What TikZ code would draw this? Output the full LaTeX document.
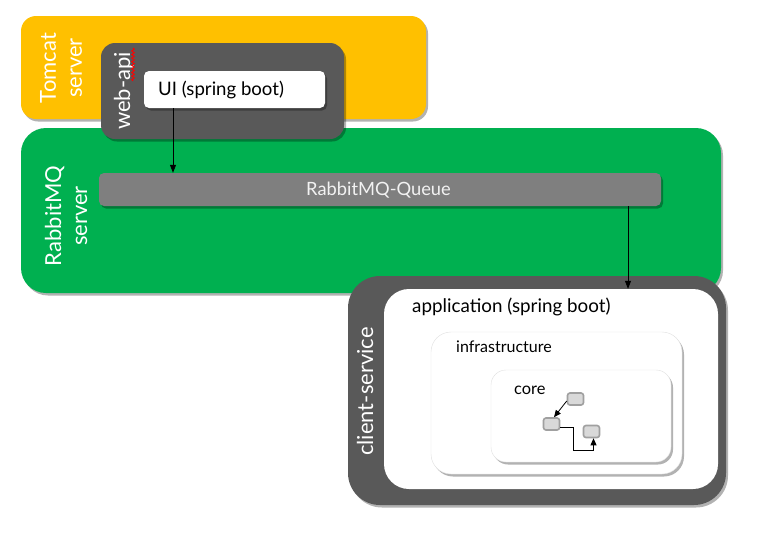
\documentclass[tikz,border=0pt]{standalone}
\usepackage{fontspec}
\setmainfont{Lato}
\usetikzlibrary{arrows.meta,shadows,decorations.pathmorphing}
\definecolor{tomcatY}{HTML}{FFC000}
\definecolor{rabbitG}{HTML}{00B050}
\definecolor{darkG}{HTML}{595959}
\definecolor{queueG}{HTML}{7F7F7F}
\definecolor{smallF}{HTML}{D9D9D9}
\definecolor{smallD}{HTML}{A0A0A0}
\tikzset{
  box/.style={inner sep=0pt, draw=none},
  shad/.style={drop shadow={shadow xshift=2pt,shadow yshift=-2.5pt,opacity=0.3,fill=black}},
  vlabel/.style={rotate=90, align=center, text=white, inner sep=0pt, font=\fontsize{22}{26}\selectfont},
  arr/.style={-{Triangle[length=8pt,width=6pt]}, line width=0.8pt, black},
  sarr/.style={-{Triangle[length=7pt,width=6pt]}, line width=0.8pt, black},
  smallbox/.style={box, fill=smallF, draw=smallD, line width=1.6pt, rounded corners=2.5pt, minimum width=16pt, minimum height=12pt},
}
\begin{document}
\begin{tikzpicture}[x=1pt,y=-1pt]
\useasboundingbox[fill=white] (0,0) rectangle (766,539);
% containers
\node[box, shad, fill=tomcatY, rounded corners=15pt, minimum width=405pt, minimum height=103pt] (tomcat) at (223.5,67.5) {};
\node[box, shad, fill=rabbitG, rounded corners=25pt, minimum width=700pt, minimum height=165pt] (rabbit) at (371,210.5) {};
\node[box, shad, fill=darkG, rounded corners=14pt, minimum width=243pt, minimum height=96pt] (webapi) at (222.5,91) {};
\node[box, shad, fill=white, rounded corners=5pt, minimum width=181pt, minimum height=37pt] (ui) at (234.5,89.5) {};
\node[box, shad, fill=queueG, rounded corners=5pt, minimum width=562pt, minimum height=33pt] (queue) at (380,189.5) {};
\node[box, shad, fill=darkG, rounded corners=32pt, minimum width=378pt, minimum height=229pt] (client) at (537,390.5) {};
\node[box, fill=white, rounded corners=25pt, minimum width=334pt, minimum height=200pt] (app) at (551,389) {};
\node[box, shad, fill=white, draw=black!12, rounded corners=20pt, minimum width=251pt, minimum height=142pt] (infra) at (556.5,403) {};
\node[box, shad, fill=white, draw=black!12, rounded corners=15pt, minimum width=180pt, minimum height=92pt] (core) at (581,416) {};
% labels
\node[vlabel] (tomcatl) at (61,68) {Tomcat\\server};
\node[vlabel] (webapil) at (124,91) {web-api};
\node[vlabel] (rabbitl) at (66,216) {RabbitMQ\\server};
\node[vlabel] (clientl) at (365,391.5) {client-service};
\node[inner sep=0pt, anchor=west, font=\fontsize{18.6}{20}\selectfont] (uil) at (158,90) {UI (spring boot)};
\node[inner sep=0pt, text=black!5, font=\fontsize{18.3}{20}\selectfont] (queuel) at (378.5,190) {RabbitMQ-Queue};
\node[inner sep=0pt, anchor=west, font=\fontsize{18.8}{20}\selectfont] (appl) at (412,307) {application (spring boot)};
\node[inner sep=0pt, anchor=west, font=\fontsize{16}{18}\selectfont] (infral) at (456,347) {infrastructure};
\node[inner sep=0pt, anchor=west, font=\fontsize{16.4}{18}\selectfont] (corel) at (514,390) {core};
% spell-check squiggle
\draw[red, line width=0.9pt, decorate, decoration={snake, amplitude=1.3pt, segment length=3.6pt}] (133,48) -- (133,81);
% small boxes
\node[smallbox] (b1) at (575.5,399) {};
\node[smallbox] (b2) at (551.5,424) {};
\node[smallbox] (b3) at (591.5,431.5) {};
% connectors
\draw[arr] ([xshift=-61.5pt]ui.south) -- ([xshift=-61.5pt]ui.south |- queue.north);
\draw[arr] ([xshift=248pt]queue.south) -- ([xshift=248pt]queue.south |- app.north);
\draw[sarr] ([yshift=-2pt]b1.west) -- ([xshift=2.5pt]b2.north);
\draw[line width=0.8pt] ([yshift=-3pt]b2.east) -- ++(13,0) -- ++(0,23) coordinate (bend);
\draw[sarr] (bend) -| ([xshift=2pt]b3.south);
\end{tikzpicture}
\end{document}
